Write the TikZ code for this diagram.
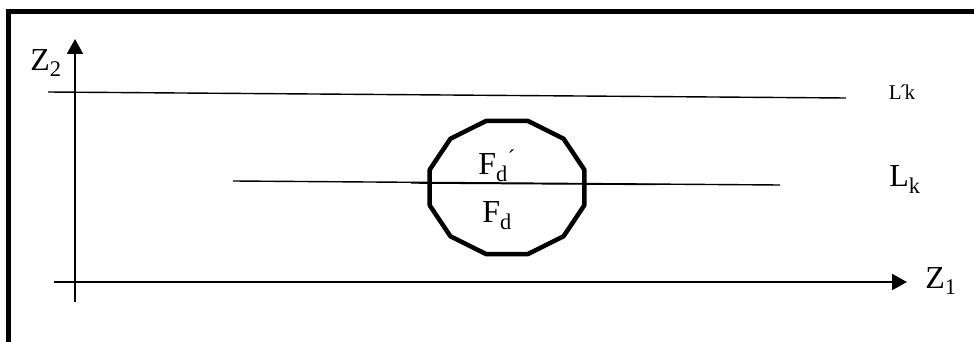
\documentclass[tikz,border=0pt]{standalone}
\usepackage{fontspec}
\setmainfont{Liberation Serif}
\usetikzlibrary{arrows.meta}

\begin{document}
\begin{tikzpicture}[x=1pt,y=-1pt,
  every node/.style={font=\fontsize{32}{36}\selectfont,inner sep=0pt},
  small/.style={font=\fontsize{21}{24}\selectfont},
  axis/.style={line width=2pt,-{Triangle[length=15pt,width=16pt]}},
  level/.style={line width=1.4pt},
  poly/.style={line width=4.5pt,line join=round}]
\useasboundingbox (0,0) rectangle (974,342);
% frame
\draw[line width=5pt] (8.5,400) -- (8.5,11.5) -- (1000,11.5);
% axes
\coordinate (z1start) at (54,282);
\coordinate (z1end) at (907,282);
\coordinate (z2start) at (75,302);
\coordinate (z2end) at (75,39);
\draw[axis] (z1start) -- (z1end);
\draw[axis] (z2start) -- (z2end);
\node (z1) at (941,281) {Z\textsubscript{1}};
\node (z2) at (46,63) {Z\textsubscript{2}};
% lines
\coordinate (lpa) at (48,92);
\coordinate (lpb) at (846,98);
\coordinate (lka) at (233,181);
\coordinate (lkb) at (780,185);
\coordinate (lkc) at (411,183);
\coordinate (lkd) at (657,184.5);
\draw[level] (lpa) -- (lpb);
\draw[level] (lka) -- (lkb);
\draw[level] (lkc) -- (lkd);
\node[small] (lpk) at (902,92) {L\kern-0.12em´\kern-0.08em k};
\node (lk) at (905,180) {L\textsubscript{k}};
% region
\begin{scope}[shift={(507,187.5)}]
\draw[poly] (15:80 and 69) \foreach \a in {45,75,...,345} {-- (\a:80 and 69)} -- cycle;
\end{scope}
\node (fdp) at (497,166) {F\textsubscript{d}\textsuperscript{´}};
\node (fd) at (497,216) {F\textsubscript{d}};
\end{tikzpicture}
\end{document}
